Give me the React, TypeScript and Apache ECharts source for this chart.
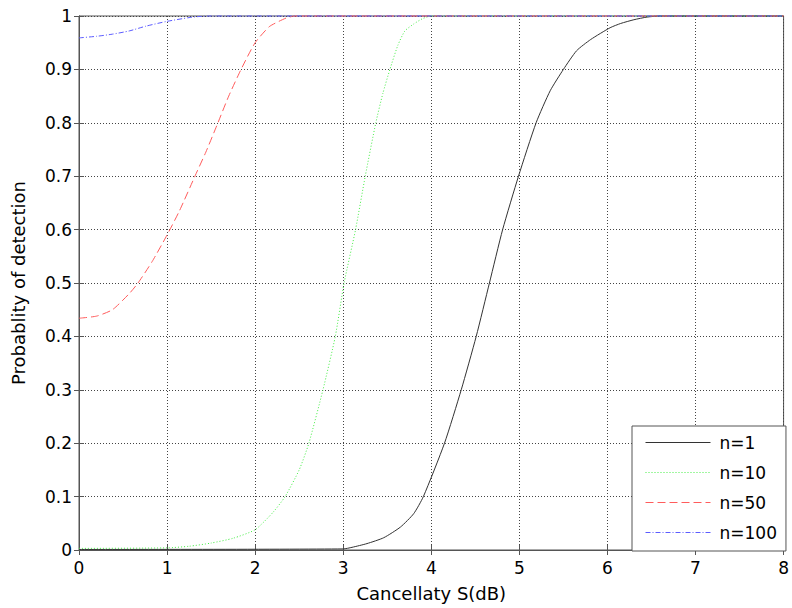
import React, { useEffect, useRef } from "react";
import * as echarts from "echarts";

const xTicks = [0, 1, 2, 3, 4, 5, 6, 7, 8];
const yTicks = [0, 0.1, 0.2, 0.3, 0.4, 0.5, 0.6, 0.7, 0.8, 0.9, 1];

const seriesNames = ["n=1", "n=10", "n=50", "n=100"];

const n1X = [0, 3, 3.1, 3.27, 3.46, 3.65, 3.8, 3.91, 4.15, 4.34, 4.51, 4.66, 4.81, 4.99, 5.19, 5.35, 5.5, 5.65, 5.81, 6.03, 6.15, 6.3, 6.45, 6.6, 8];
const n1Y = [0.001, 0.002, 0.005, 0.012, 0.023, 0.043, 0.068, 0.1, 0.2, 0.3, 0.4, 0.5, 0.6, 0.7, 0.8, 0.86, 0.9, 0.935, 0.956, 0.978, 0.986, 0.993, 0.998, 1, 1];

const n10X = [0, 1, 1.25, 1.5, 1.75, 2, 2.2, 2.34, 2.5, 2.61, 2.77, 2.91, 3.01, 3.14, 3.25, 3.37, 3.45, 3.53, 3.62, 3.7, 3.8, 3.9, 4, 8];
const n10Y = [0.003, 0.004, 0.007, 0.013, 0.022, 0.038, 0.07, 0.1, 0.15, 0.2, 0.3, 0.4, 0.5, 0.6, 0.7, 0.8, 0.855, 0.9, 0.945, 0.972, 0.985, 0.995, 1, 1];

const n50X = [0, 0.2, 0.38, 0.57, 0.67, 0.83, 1.0, 1.14, 1.33, 1.44, 1.57, 1.7, 1.84, 2.0, 2.16, 2.27, 2.35, 2.45, 8];
const n50Y = [0.434, 0.438, 0.45, 0.48, 0.5, 0.54, 0.59, 0.635, 0.705, 0.745, 0.797, 0.85, 0.9, 0.95, 0.98, 0.99, 0.996, 1, 1];

const n100X = [0, 0.2, 0.38, 0.57, 0.76, 1.0, 1.25, 1.36, 1.5, 8];
const n100Y = [0.959, 0.962, 0.966, 0.972, 0.981, 0.99, 0.997, 0.999, 1, 1];

const FONT = "DejaVu Sans";

function pairs(xs: number[], ys: number[]) {
  return xs.map((x, i) => [x, ys[i]]);
}

export default function App() {
  const ref = useRef<HTMLDivElement>(null);
  useEffect(() => {
    document.body.style.margin = "0";
    if (!ref.current) return;
    const chart = echarts.init(ref.current, null, { renderer: "svg" });
    const axisLine = { show: true, lineStyle: { color: "#555", width: 1 } };
    const tick = { show: true, inside: true, length: 5, lineStyle: { color: "#555" } };
    const split = { show: true, lineStyle: { color: "#444", width: 1, type: [1, 2] } };
    const lines = [
      { name: seriesNames[0], data: pairs(n1X, n1Y), color: "#333333", type: "solid" },
      { name: seriesNames[1], data: pairs(n10X, n10Y), color: "#44ee44", type: [1, 2] },
      { name: seriesNames[2], data: pairs(n50X, n50Y), color: "#ff5c5c", type: [8, 4] },
      { name: seriesNames[3], data: pairs(n100X, n100Y), color: "#5c5cff", type: [5, 2, 1, 2] },
    ];
    chart.setOption({
      animation: false,
      backgroundColor: "#fff",
      textStyle: { fontFamily: FONT },
      grid: { left: 79, right: 7, top: 16, bottom: 58, show: true, borderColor: "#555", borderWidth: 1 },
      xAxis: [
        {
          type: "value",
          min: 0,
          max: 8,
          interval: 1,
          position: "bottom",
          axisLine,
          axisTick: tick,
          splitLine: split,
          axisLabel: { color: "#000", fontSize: 17, fontFamily: FONT, margin: 9 },
          name: "Cancellaty S(dB)",
          nameLocation: "middle",
          nameGap: 34,
          nameTextStyle: { color: "#000", fontSize: 18, fontFamily: FONT },
        },
        {
          type: "value",
          min: 0,
          max: 8,
          interval: 1,
          position: "top",
          axisLine,
          axisTick: tick,
          splitLine: { show: false },
          axisLabel: { show: false },
        },
      ],
      yAxis: [
        {
          type: "value",
          min: 0,
          max: 1,
          interval: 0.1,
          position: "left",
          axisLine,
          axisTick: tick,
          splitLine: split,
          axisLabel: {
            color: "#000",
            fontSize: 17,
            fontFamily: FONT,
            margin: 7,
            formatter: (v: number) => String(parseFloat(v.toFixed(1))),
          },
          name: "Probablity of detection",
          nameLocation: "middle",
          nameGap: 52,
          nameTextStyle: { color: "#000", fontSize: 18, fontFamily: FONT },
        },
        {
          type: "value",
          min: 0,
          max: 1,
          interval: 0.1,
          position: "right",
          axisLine,
          axisTick: tick,
          splitLine: { show: false },
          axisLabel: { show: false },
        },
      ],
      legend: {
        orient: "vertical",
        left: 632,
        top: 426,
        data: seriesNames,
        itemWidth: 65,
        itemHeight: 17,
        itemGap: 13,
        padding: [8, 9, 10, 13],
        backgroundColor: "#fff",
        borderColor: "#555",
        borderWidth: 1,
        borderRadius: 0,
        itemStyle: { opacity: 0 },
        lineStyle: { width: 1 },
        textStyle: { color: "#000", fontSize: 17, fontFamily: FONT, padding: [0, 0, 0, 4] },
      },
      series: lines.map((l) => ({
        type: "line",
        name: l.name,
        data: l.data,
        xAxisIndex: 0,
        yAxisIndex: 0,
        showSymbol: false,
        symbol: "none",
        smooth: 0.2,
        clip: false,
        color: l.color,
        lineStyle: { color: l.color, width: 1, type: l.type },
      })),
    });
    return () => chart.dispose();
  }, []);
  return <div ref={ref} style={{ width: 792, height: 608 }} />;
}
